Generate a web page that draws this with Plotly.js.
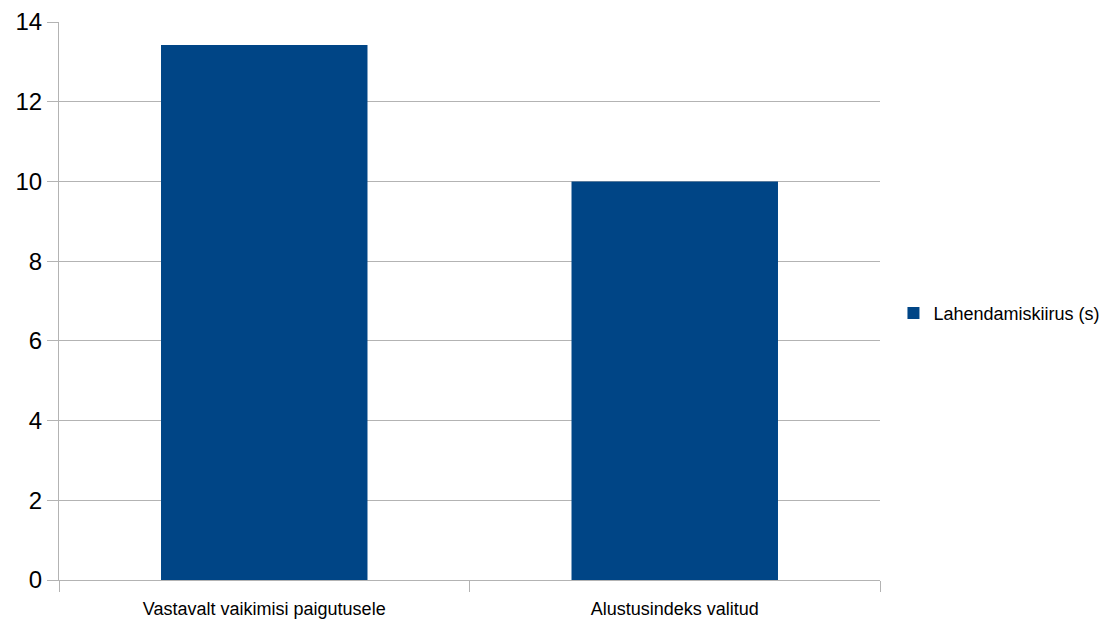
<!DOCTYPE html>
<html>
<head>
<meta charset="utf-8">
<script src="https://cdn.plot.ly/plotly-3.0.1.min.js"></script>
<style>
  html, body { margin: 0; padding: 0; background: #fff; }
  #chart { width: 1104px; height: 619px; }
</style>
</head>
<body>
<div id="chart"></div>
<script>
// Solving speed per start configuration
const categories = ["Vastavalt vaikimisi paigutusele", "Alustusindeks valitud"];
const solveSpeed = [13.42, 10];
const seriesName = "Lahendamiskiirus (s)";
const yTicks = [0, 2, 4, 6, 8, 10, 12, 14];

const gridColor = "#b3b3b3";

const trace = {
  type: "bar",
  x: categories,
  y: solveSpeed,
  name: seriesName,
  marker: { color: "#004586", line: { width: 0 } },
  width: 0.503,
  showlegend: true,
  hoverinfo: "x+y"
};

const layout = {
  width: 1104,
  height: 619,
  margin: { l: 59, r: 224, t: 22, b: 39, pad: 0, autoexpand: false },
  paper_bgcolor: "#ffffff",
  plot_bgcolor: "#ffffff",
  font: { family: "Liberation Sans, Arial, sans-serif", color: "#000000" },
  showlegend: true,
  legend: {
    x: 1.0164, xanchor: "left",
    y: 0.478, yanchor: "middle",
    font: { size: 18, color: "#000000" },
    bgcolor: "rgba(0,0,0,0)",
    itemwidth: 30
  },
  xaxis: {
    type: "category",
    showgrid: false,
    showline: true,
    linecolor: gridColor,
    linewidth: 1,
    ticks: "outside",
    tickson: "boundaries",
    ticklen: 11,
    tickcolor: gridColor,
    ticklabelstandoff: 12,
    tickfont: { size: 18, color: "#000000" },
    zeroline: false,
    fixedrange: true
  },
  yaxis: {
    range: [0, 14],
    tickvals: yTicks,
    ticktext: yTicks.map(String),
    showgrid: true,
    gridcolor: gridColor,
    gridwidth: 1,
    showline: true,
    linecolor: gridColor,
    linewidth: 1,
    ticks: "outside",
    ticklen: 11,
    tickcolor: gridColor,
    tickfont: { size: 24, color: "#000000" },
    zeroline: false,
    fixedrange: true
  },
  bargap: 0.497
};

Plotly.newPlot("chart", [trace], layout, { displayModeBar: false, staticPlot: true });
</script>
</body>
</html>
